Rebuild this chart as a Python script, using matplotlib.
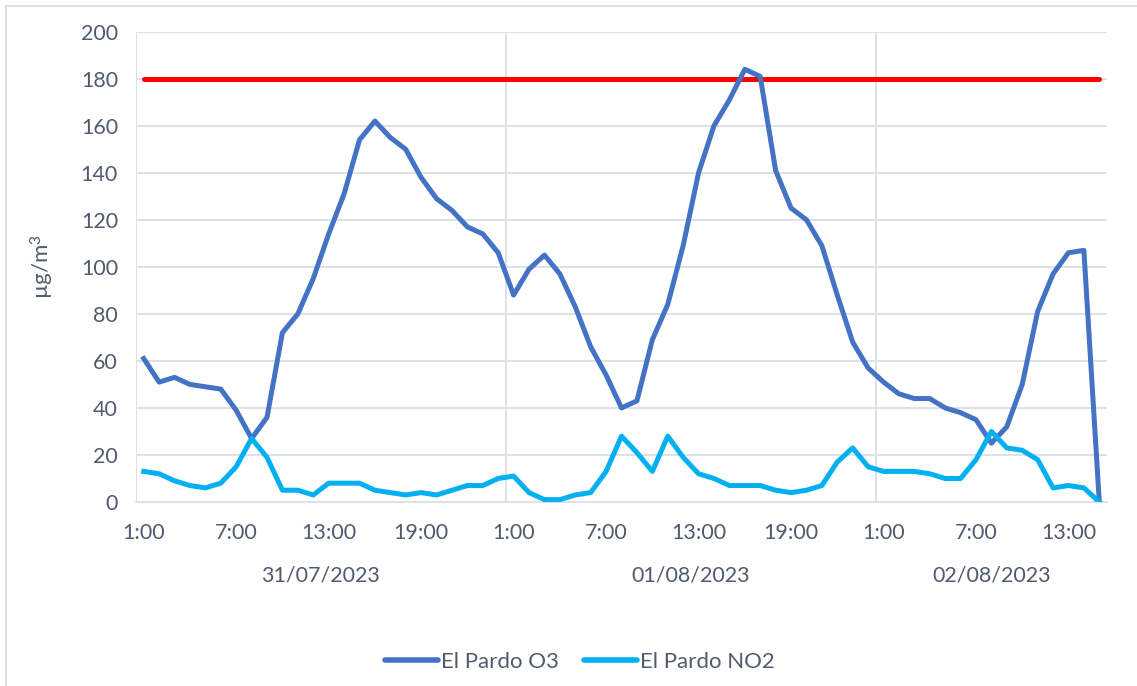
import matplotlib
matplotlib.use("Agg")
import matplotlib.pyplot as plt
from matplotlib.lines import Line2D
import matplotlib.transforms as mtransforms

plt.rcParams['font.family'] = ['Lato', 'DejaVu Sans']
plt.rcParams['mathtext.fontset'] = 'custom'
plt.rcParams['mathtext.rm'] = 'Lato'
plt.rcParams['mathtext.it'] = 'Lato'
plt.rcParams['mathtext.default'] = 'regular'

# ---- data ----
o3 = [61, 51, 53, 50, 49, 48, 39, 27, 36, 72, 80, 95, 114, 131, 154, 162, 155, 150, 138, 129, 124, 117, 114, 106,
      88, 99, 105, 97, 83, 66, 54, 40, 43, 69, 84, 109, 140, 160, 171, 184, 181, 141, 125, 120, 109, 88, 68, 57,
      51, 46, 44, 44, 40, 38, 35, 25, 32, 50, 81, 97, 106, 107, 0]
no2 = [13, 12, 9, 7, 6, 8, 15, 27, 19, 5, 5, 3, 8, 8, 8, 5, 4, 3, 4, 3, 5, 7, 7, 10,
       11, 4, 1, 1, 3, 4, 13, 28, 21, 13, 28, 19, 12, 10, 7, 7, 7, 5, 4, 5, 7, 17, 23, 15,
       13, 13, 13, 12, 10, 10, 18, 30, 23, 22, 18, 6, 7, 6, 0]
limit_value = 180
hour_labels = ["1:00", "7:00", "13:00", "19:00",
               "1:00", "7:00", "13:00", "19:00",
               "1:00", "7:00", "13:00"]
day_labels = ["31/07/2023", "01/08/2023", "02/08/2023"]
hours_per_day = [24, 24, 15]
series_names = ["El Pardo O3", "El Pardo NO2"]

# ---- style ----
c_o3 = "#4472C4"
c_no2 = "#00B0F0"
c_lim = "#FF0000"
c_text = "#4F5B6E"
c_grid = "#DDE1E8"
fs = 15.5

W, H = 1137, 686
fig = plt.figure(figsize=(W / 100, H / 100), dpi=100)
ax = fig.add_axes([136 / W, (H - 502) / H, (1107 - 136) / W, (502 - 31.7) / H])

x = list(range(len(o3)))
ax.plot([x[0], x[-1]], [limit_value, limit_value], color=c_lim, lw=3.6,
        solid_capstyle='round', zorder=3)
ax.plot(x, o3, color=c_o3, lw=3.6, solid_joinstyle='round', label=series_names[0], zorder=4)
ax.plot(x, no2, color=c_no2, lw=3.6, solid_joinstyle='round', label=series_names[1], zorder=4)

ax.set_xlim(-0.5, len(o3) - 0.5)
ax.set_ylim(0, 200)
ax.set_yticks(range(0, 201, 20))
ax.yaxis.grid(True, color=c_grid, lw=1.4, zorder=0)
ax.set_axisbelow(True)

# day separators
bounds = [-0.5]
acc = -0.5
for n in hours_per_day[:-1]:
    acc += n
    bounds.append(acc)
for b in bounds:
    ax.axvline(b, color=c_grid, lw=1.4, zorder=0)

for s in ax.spines.values():
    s.set_visible(False)
ax.spines['bottom'].set_visible(True)
ax.spines['bottom'].set_color(c_grid)
ax.spines['bottom'].set_linewidth(1.4)

ax.set_xticks(list(range(0, len(o3), 6)))
ax.set_xticklabels(hour_labels)
ax.tick_params(axis='both', length=0, labelsize=fs, labelcolor=c_text)
ax.tick_params(axis='y', pad=13)
ax.tick_params(axis='x', pad=15)

# day labels
trans = mtransforms.blended_transform_factory(ax.transData, ax.transAxes)
start = -0.5
for lab, n in zip(day_labels, hours_per_day):
    ax.text(start + n / 2, -0.156, lab, transform=trans, ha='center', va='center',
            fontsize=fs, color=c_text, clip_on=False)
    start += n

ax.set_ylabel("µg/m$^{3}$", fontsize=16, color=c_text, labelpad=18)

leg = fig.legend(loc='center', bbox_to_anchor=(580 / W, (H - 662) / H), ncol=2,
                 frameon=False, fontsize=16, handlelength=2.4, handletextpad=0.15,
                 columnspacing=1.1, labelcolor=c_text)
for lh in leg.get_lines():
    lh.set_linewidth(4)
    lh.set_solid_capstyle('round')

# outer chart border (left and top edges visible)
fig.add_artist(Line2D([6 / W, 6 / W], [0, (H - 6) / H], color="#D9D9D9", lw=1.2,
                      transform=fig.transFigure))
fig.add_artist(Line2D([6 / W, 1], [(H - 6) / H, (H - 6) / H], color="#D9D9D9", lw=1.2,
                      transform=fig.transFigure))

fig.savefig("out.png", dpi=100)
